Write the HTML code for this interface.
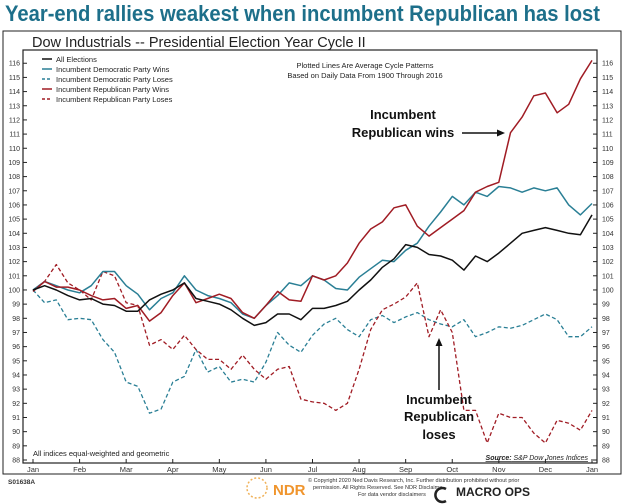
<!DOCTYPE html>
<html><head><meta charset="utf-8"><style>
html,body{margin:0;padding:0;background:#fff;width:625px;height:504px;overflow:hidden}
svg{display:block;font-family:"Liberation Sans",sans-serif}
</style></head><body>
<svg id="chart" width="625" height="504">
<text x="5" y="21" font-size="22" font-weight="bold" fill="#1d6f8a" textLength="595" lengthAdjust="spacingAndGlyphs">Year-end rallies weakest when incumbent Republican has lost</text>
<rect x="3" y="31" width="618" height="443" fill="none" stroke="#222" stroke-width="1"/>
<text x="32" y="47" font-size="14.5" fill="#222">Dow Industrials -- Presidential Election Year Cycle II</text>
<rect x="23" y="50" width="574" height="413" fill="none" stroke="#222" stroke-width="1.2"/>
<g id="axes"></g>
<g id="series"></g>
<g font-size="7.5" fill="#222">
<line x1="42" y1="59" x2="52" y2="59" stroke="#111" stroke-width="1.5"/><text x="56" y="62">All Elections</text>
<line x1="42" y1="69" x2="52" y2="69" stroke="#2a7f95" stroke-width="1.5"/><text x="56" y="72">Incumbent Democratic Party Wins</text>
<line x1="42" y1="79" x2="52" y2="79" stroke="#2a7f95" stroke-width="1.5" stroke-dasharray="3,2"/><text x="56" y="82">Incumbent Democratic Party Loses</text>
<line x1="42" y1="89" x2="52" y2="89" stroke="#a01c24" stroke-width="1.5"/><text x="56" y="92">Incumbent Republican Party Wins</text>
<line x1="42" y1="99" x2="52" y2="99" stroke="#a01c24" stroke-width="1.5" stroke-dasharray="3,2"/><text x="56" y="102">Incumbent Republican Party Loses</text>
</g>
<text x="365" y="68" font-size="7.5" text-anchor="middle" fill="#222">Plotted Lines Are Average Cycle Patterns</text>
<text x="365" y="78" font-size="7.5" text-anchor="middle" fill="#222">Based on Daily Data From 1900 Through 2016</text>
<g font-size="13" font-weight="bold" fill="#111" text-anchor="middle">
<text x="403" y="119">Incumbent</text><text x="403" y="137">Republican wins</text>
<line x1="462" y1="133" x2="500" y2="133" stroke="#111" stroke-width="1.5"/><polygon points="505,133 497,129.5 497,136.5" fill="#111"/>
</g>
<g font-size="13" font-weight="bold" fill="#111" text-anchor="middle">
<text x="439" y="404">Incumbent</text><text x="439" y="421">Republican</text><text x="439" y="439">loses</text>
<line x1="439" y1="390" x2="439" y2="344" stroke="#111" stroke-width="1.5"/><polygon points="439,338 435.5,346 442.5,346" fill="#111"/>
</g>
<text x="33" y="456" font-size="7.5" fill="#222">All indices equal-weighted and geometric</text>
<text x="588" y="460" font-size="7" font-style="italic" text-anchor="end" fill="#222" text-decoration="underline"><tspan font-weight="bold">Source:</tspan>  S&amp;P Dow Jones Indices</text>
<text x="8" y="484" font-size="6.5" font-weight="bold" fill="#333">S01638A</text>
<g>
<circle cx="257" cy="488" r="10" fill="none" stroke="#f0b25a" stroke-width="1.5" stroke-dasharray="2,2"/>
<text x="273" y="495" font-size="15" font-weight="bold" fill="#f0952d">NDR</text>
</g>
<g font-size="5.5" fill="#333">
<text x="308" y="482">© Copyright 2020 Ned Davis Research, Inc. Further distribution prohibited without prior</text>
<text x="313" y="489">permission. All Rights Reserved. See NDR Disclaime</text>
<text x="358" y="496">For data vendor disclaimers</text>
</g>
<g>
<path d="M 446 489 A 7 7 0 1 0 446 501" fill="none" stroke="#222" stroke-width="2.5"/>
<text x="456" y="496" font-size="12" font-weight="bold" fill="#222">MACRO OPS</text>
</g>
</svg>
<script>
const months = ["Jan","Feb","Mar","Apr","May","Jun","Jul","Aug","Sep","Oct","Nov","Dec","Jan"];
const yTicks = [88,89,90,91,92,93,94,95,96,97,98,99,100,101,102,103,104,105,106,107,108,109,110,111,112,113,114,115,116];
const allElections = [100,100.3,100,99.6,99.3,99.4,99,98.9,98.5,98.5,99.3,99.7,100,100.5,99.4,99.2,99,98.6,98,97.5,97.7,98.3,98.3,97.9,98.7,98.7,98.9,99.2,100,100.7,101.6,102.2,103.2,103,102.5,102.4,102.1,101.4,102.4,102,102.6,103.3,104,104.2,104.4,104.2,104,103.9,105.3];
const demWins = [100,100.6,100.3,100,99.8,100.3,101.3,101.3,100.3,99.7,98.6,99.4,99.8,101,100,99.6,99.4,99.1,98.3,98,98.9,99.6,100.5,100.3,101,100.7,100.1,100,100.9,101.5,102.1,102,102.8,103.3,104.5,105.5,106.6,106,106.9,106.6,107.3,107.2,106.9,107.2,107,107.2,106,105.3,106.1];
const demLoses = [100,99.1,99.3,97.9,98,97.9,96.5,95.6,93.5,93.2,91.3,91.6,93.5,93.9,95.8,94.2,94.6,93.5,93.7,93.5,94.9,97,96.1,95.6,96.8,97.6,98,97.2,96.7,97.9,98.2,97.7,98.1,98.4,97.9,97.6,97.4,97.9,96.7,97,97.4,97.3,97.5,97.9,98.3,97.9,96.7,96.7,97.4];
const repWins = [99.9,100.6,100.2,100.2,100,99.6,99.3,99.4,98.7,98.9,97.8,98.4,99.6,100.5,99.1,99.4,99.7,99.4,98.4,98,98.9,99.9,99.3,99.2,101,100.7,101,101.9,103.3,104.3,104.8,105.8,106,104.5,103.8,104.4,105,105.6,106.9,107.3,107.6,111.1,112.2,113.7,113.9,112.5,113.1,114.9,116.2];
const repLoses = [100,100.6,101.8,100.5,100,99.3,101.3,101,99.1,98.9,96.1,96.5,95.8,96.8,95.8,95.1,95.1,94.4,95.4,94.4,93.7,94.4,94.6,92.3,92.1,92,91.5,92,94.4,97.2,98.6,99,99.5,100.5,96.7,98.6,97,91.5,91.5,89.2,91.3,91,91,89.9,89.2,90.8,90.6,90.1,91.5];

const NS="http://www.w3.org/2000/svg";
const X0=33,X1=592,Y0=460,YS=14.17;
function xIdx(i,n){return X0+(X1-X0)*i/(n-1);}
function xMonth(i){return X0+(X1-X0)*i/(months.length-1);}
function yVal(v){return Y0-(v-88)*YS;}
const axes=document.getElementById('axes');
function mk(tag,attrs,parent){const e=document.createElementNS(NS,tag);for(const k in attrs)e.setAttribute(k,attrs[k]);parent.appendChild(e);return e;}
yTicks.forEach(v=>{
  const y=yVal(v);
  const l=mk('line',{x1:23,x2:27,y1:y,y2:y,stroke:'#222','stroke-width':1},axes);
  
  
  const r=mk('line',{x1:593,x2:597,y1:y,y2:y,stroke:'#222','stroke-width':1},axes);
  
  
  const t=mk('text',{x:20,y:y+2.5,'font-size':7,'text-anchor':'end',fill:'#333'},axes);
  t.textContent=v;
  
  
  const t2=mk('text',{x:602,y:y+2.5,'font-size':7,fill:'#333'},axes);
  t2.textContent=v;
  
  
});
months.forEach((m,i)=>{
  const x=xMonth(i);
  const l=mk('line',{x1:x,x2:x,y1:459,y2:463,stroke:'#222','stroke-width':1},axes);
  
  
  const t=mk('text',{x:x,y:472,'font-size':7.5,'text-anchor':'middle',fill:'#333'},axes);
  t.textContent=m;
  
  
});
const sg=document.getElementById('series');
function line(arr,color,dash,name){
  const d=arr.map((v,i)=>(i?'L':'M')+xIdx(i,arr.length).toFixed(1)+' '+yVal(v).toFixed(1)).join(' ');
  const p=mk('path',{d:d,fill:'none',stroke:color,'stroke-width':dash?1.3:1.5,'stroke-linejoin':'round'},sg);
  if(dash)p.setAttribute('stroke-dasharray','4,2.5');
  
  
}
line(demLoses,'#2a7f95',true,'series-dem-loses');
line(repLoses,'#a01c24',true,'series-rep-loses');
line(demWins,'#2a7f95',false,'series-dem-wins');
line(repWins,'#a01c24',false,'series-rep-wins');
line(allElections,'#111',false,'series-all-elections');
</script>
</body></html>
